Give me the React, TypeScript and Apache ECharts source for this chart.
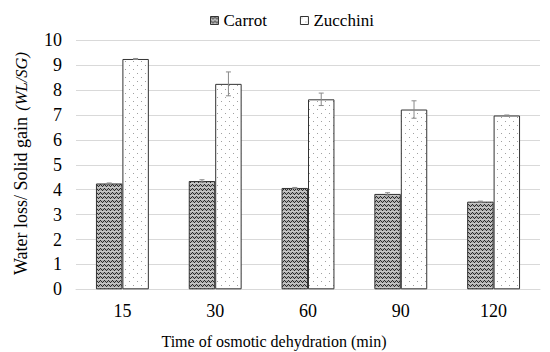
import React, { useEffect, useRef } from "react";
import * as echarts from "echarts";

const categories = ["15", "30", "60", "90", "120"];
const carrot = [4.25, 4.35, 4.07, 3.83, 3.52];
const carrotErr = [0.02, 0.05, 0.02, 0.05, 0.02];
const zucchini = [9.25, 8.25, 7.63, 7.22, 6.98];
const zucchiniErr = [0.02, 0.48, 0.25, 0.35, 0.02];
const yTicks = [0, 1, 2, 3, 4, 5, 6, 7, 8, 9, 10];

const FONT = "Liberation Serif";
const BAR_FRAC = 0.285;

function makeZigzag(): string {
  const rows = ["#...", ".#.#", "..#.", "...."];
  const c = document.createElement("canvas");
  c.width = 4;
  c.height = 4;
  const g = c.getContext("2d")!;
  for (let y = 0; y < 4; y++) {
    for (let x = 0; x < 4; x++) {
      g.fillStyle = rows[y][x] === "#" ? "#2a2a2a" : y === 3 ? "#c8c8c8" : "#b0b0b0";
      g.fillRect(x, y, 1, 1);
    }
  }
  return c.toDataURL();
}

function makeDots(): string {
  const c = document.createElement("canvas");
  c.width = 8;
  c.height = 8;
  const g = c.getContext("2d")!;
  g.fillStyle = "#ffffff";
  g.fillRect(0, 0, 8, 8);
  g.fillStyle = "#a0a0a0";
  g.fillRect(1, 1, 1, 1);
  g.fillRect(5, 5, 1, 1);
  return c.toDataURL();
}

export default function App() {
  const ref = useRef<HTMLDivElement>(null);
  useEffect(() => {
    if (!ref.current) return;
    const chart = echarts.init(ref.current, undefined, { renderer: "svg" });
    const zig = { image: makeZigzag(), repeat: "repeat", imageWidth: 4, imageHeight: 4 } as any;
    const dots = { image: makeDots(), repeat: "repeat", imageWidth: 8, imageHeight: 8 } as any;

    const errSeries = (vals: number[], errs: number[], side: number) => ({
      type: "custom",
      silent: true,
      z: 10,
      data: vals.map((v, i) => [i, v, errs[i]]),
      renderItem: (params: any, api: any) => {
        const i = api.value(0);
        const v = api.value(1);
        const e = api.value(2);
        const band = api.size([1, 0])[0];
        const off = (side * band * BAR_FRAC) / 2;
        const top = api.coord([i, v + e]);
        const bot = api.coord([i, v - e]);
        const x = top[0] + off;
        const cap = 2.5;
        const st = { stroke: "#8a8a8a", lineWidth: 1 };
        return {
          type: "group",
          children: [
            { type: "line", shape: { x1: x, y1: top[1], x2: x, y2: bot[1] }, style: st },
            { type: "line", shape: { x1: x - cap, y1: top[1], x2: x + cap, y2: top[1] }, style: st },
            { type: "line", shape: { x1: x - cap, y1: bot[1], x2: x + cap, y2: bot[1] }, style: st },
          ],
        };
      },
    });

    chart.setOption({
      animation: false,
      backgroundColor: "#ffffff",
      textStyle: { fontFamily: FONT },
      grid: { left: 76, right: 10, top: 40.3, bottom: 62.7, containLabel: false },
      legend: {
        top: 7,
        left: 205,
        itemWidth: 8,
        itemHeight: 8,
        itemGap: 33,
        itemStyle: { borderColor: "#333", borderWidth: 1 },
        icon: "rect",
        textStyle: { fontFamily: FONT, fontSize: 17, color: "#000" },
        data: ["Carrot", "Zucchini"],
      },
      xAxis: {
        type: "category",
        data: categories,
        axisLine: { lineStyle: { color: "#d9d9d9", width: 1 } },
        axisTick: { show: false },
        axisLabel: { fontFamily: FONT, fontSize: 18, color: "#000", margin: 13 },
      },
      yAxis: {
        type: "value",
        min: yTicks[0],
        max: yTicks[yTicks.length - 1],
        interval: 1,
        axisLine: { show: false },
        axisTick: { show: false },
        splitLine: { lineStyle: { color: "#d9d9d9", width: 1 } },
        axisLabel: { fontFamily: FONT, fontSize: 18, color: "#000", margin: 14 },
      },
      graphic: [
        {
          type: "text",
          x: 274,
          y: 341,
          style: {
            text: "Time of osmotic dehydration (min)",
            fontFamily: FONT,
            fontSize: 16,
            fill: "#000",
            align: "center",
            verticalAlign: "middle",
          },
        },
        {
          type: "text",
          x: 21,
          y: 275,
          rotation: Math.PI / 2,
          style: {
            text: "Water loss/ Solid gain",
            fontFamily: FONT,
            fontSize: 18,
            fill: "#000",
            align: "left",
            verticalAlign: "middle",
          },
        },
        {
          type: "text",
          x: 21,
          y: 52,
          rotation: Math.PI / 2,
          style: {
            text: "(WL/SG)",
            fontFamily: FONT,
            fontSize: 16.5,
            fontStyle: "italic",
            fill: "#000",
            align: "right",
            verticalAlign: "middle",
          },
        },
      ],
      series: [
        {
          name: "Carrot",
          type: "bar",
          data: carrot,
          barWidth: "28.5%",
          barGap: "0%",
          itemStyle: { color: zig, borderColor: "#333", borderWidth: 1 },
        },
        {
          name: "Zucchini",
          type: "bar",
          data: zucchini,
          barWidth: "28.5%",
          barGap: "0%",
          itemStyle: { color: dots, borderColor: "#333", borderWidth: 1 },
        },
        errSeries(carrot, carrotErr, -1),
        errSeries(zucchini, zucchiniErr, 1),
      ],
    });
    return () => chart.dispose();
  }, []);
  return <div ref={ref} style={{ width: 550, height: 352, position: "absolute", left: 0, top: 0 }} />;
}
